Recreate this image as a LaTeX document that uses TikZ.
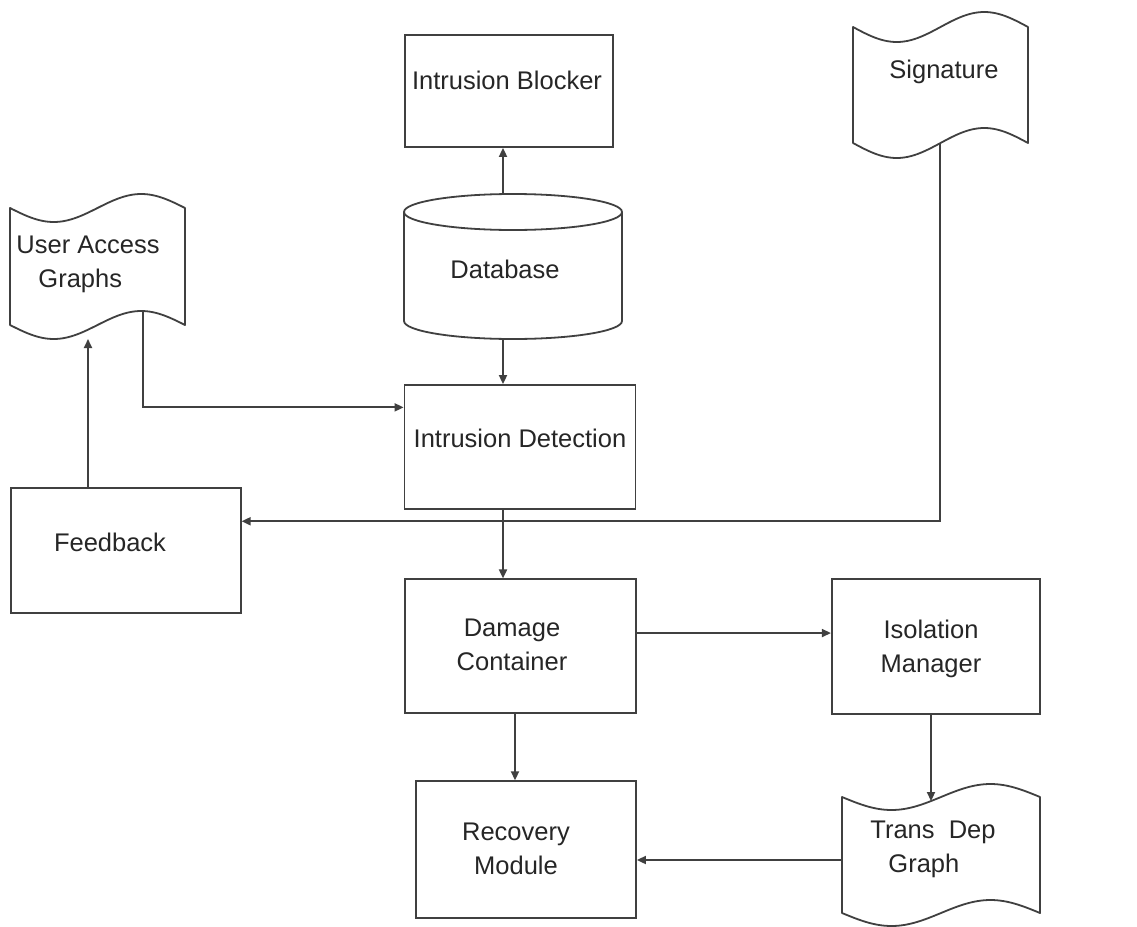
\documentclass[tikz,border=0pt]{standalone}
\usepackage{fontspec}
\setmainfont{Liberation Sans}
\usetikzlibrary{arrows.meta,calc}

% Wavy "document" outline: #1 left x, #2 top baseline y, #3 width, #4 height, #5 wave amplitude
\newcommand\wavydoc[5]{%
  \draw[stroke, line join=round]
    plot[domain=0:1, samples=61, smooth] ({#1+#3*\x},{#2+#5*sin(360*\x)})
    -- plot[domain=1:0, samples=61, smooth] ({#1+#3*\x},{#2+#4+#5*sin(360*\x)})
    -- cycle;}

\begin{document}
\begin{tikzpicture}[x=1pt, y=-1pt,
  stroke/.style={draw=black!75, line width=1.8pt},
  box/.style={stroke, rectangle, inner sep=0pt},
  lbl/.style={font=\fontsize{25.5}{34}\selectfont, text=black!85, inner sep=0pt, align=center},
  arr/.style={draw=black!75, line width=1.8pt, -{Triangle[length=9pt,width=8pt]}}]

\fill[white] (0,0) rectangle (1137,926);
\useasboundingbox (0,0) rectangle (1137,926);

% columns used by the vertical connectors
\coordinate (spine) at (503,0);
\coordinate (col2) at (515,0);

% rectangular blocks
\node[box, minimum width=208pt, minimum height=112pt] (ib) at (509,91) {};
\node[box, minimum width=231pt, minimum height=124pt] (id) at (520,447) {};
\node[box, minimum width=230pt, minimum height=125pt] (fb) at (125.7,550.8) {};
\node[box, minimum width=231pt, minimum height=134pt] (dc) at (520.5,646.3) {};
\node[box, minimum width=208pt, minimum height=134.7pt] (im) at (935.8,646.7) {};
\node[box, minimum width=220pt, minimum height=137pt] (rm) at (526,849.7) {};

% database cylinder
\node[inner sep=0pt, minimum width=218pt, minimum height=145pt] (db) at (513,266.5) {};
\draw[stroke] (513,212) ellipse[x radius=109pt, y radius=18pt];
\draw[stroke] (404,212) -- (404,321)
  arc[start angle=180, end angle=360, x radius=109pt, y radius=18pt] -- (622,212);

% wavy documents
\wavydoc{10}{208}{175}{117}{14}
\wavydoc{853}{27}{175}{116}{15}
\wavydoc{842}{797}{198}{116}{13}

% attachment points on the wavy edges
\coordinate (uag-b1) at (88,339);
\coordinate (uag-b2) at (143,{325+14*sin(133/175*360)});
\coordinate (sig-b) at (940,{143+15*sin(87/175*360)});
\coordinate (tdg-t) at (931,{797+13*sin(89/198*360)});
\coordinate (tdg-l) at (842,860);

% side entry points
\coordinate (id-in) at ($(id.north west)!0.185!(id.south west)$);
\coordinate (fb-in) at ($(fb.north east)!0.267!(fb.south east)$);
\coordinate (im-in) at ($(im.north west)!0.4!(im.south west)$);

% labels
\node[lbl] (ibt) at (507,80) {Intrusion Blocker};
\node[lbl] (dbt) at (505,269) {Database};
\node[lbl] (idt) at (520,438) {Intrusion Detection};
\node[lbl] (fbt) at (110,542) {Feedback};
\node[lbl] (dct) at (512,645) {Damage\\Container};
\node[lbl] (imt) at (931,649) {Isolation\\Manager};
\node[lbl] (rmt) at (516,849) {Recovery\\Module};
\node[lbl, align=left] (uag) at (88,264) {User Access\\\hspace*{22pt}Graphs};
\node[lbl] (sig) at (944,72) {Signature};
\node[lbl, align=left] (tdg) at (933,849) {Trans\ \ Dep\\\hspace*{18pt}Graph};

% connectors
\draw[arr] (db.north -| spine) -- (ib.south -| spine);
\draw[arr] (db.south -| spine) -- (id.north -| spine);
\draw[arr] (uag-b2) |- (id-in);
\draw[arr] (sig-b) |- (fb-in);
\draw[arr] (uag-b1 |- fb.north) -- (uag-b1);
\draw[arr] (id.south -| spine) -- (dc.north -| spine);
\draw[arr] (dc.east |- im-in) -- (im-in);
\draw[arr] (im.south -| tdg-t) -- (tdg-t);
\draw[arr] (dc.south -| col2) -- (rm.north -| col2);
\draw[arr] (tdg-l) -- (rm.east |- tdg-l);
\end{tikzpicture}
\end{document}
